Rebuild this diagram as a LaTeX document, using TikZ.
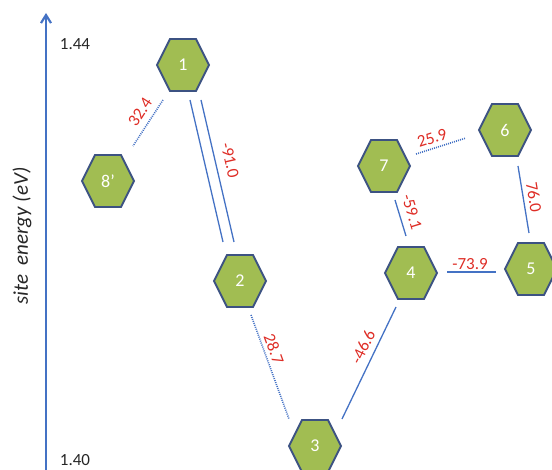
\documentclass[tikz,border=0pt]{standalone}
\usepackage{fontspec}
\setmainfont{Carlito}
\usetikzlibrary{arrows.meta}
\definecolor{axisblue}{RGB}{68,114,196}
\definecolor{hexfill}{RGB}{161,189,82}
\definecolor{hexedge}{RGB}{60,82,130}
\definecolor{lblred}{RGB}{222,45,38}
\tikzset{
  hexshape/.style={fill=hexfill, draw=hexedge, line width=1.8pt, line join=miter},
  hexlabel/.style={text=white, font=\fontsize{18}{20}\selectfont, inner sep=0pt},
  solidlink/.style={draw=axisblue, line width=1.3pt},
  dotlink/.style={draw=axisblue, line width=1.6pt, dash pattern=on 1pt off 1.1pt},
  lbl/.style={text=lblred, font=\fontsize{17}{19}\selectfont, inner sep=0pt},
  ticklbl/.style={text=black!85, font=\fontsize{17}{19}\selectfont, inner sep=0pt}
}
\newcommand{\hexnode}[4]{%
  \draw[hexshape] (#2,#3) ++(-26,0) -- ++(13,-26) -- ++(26,0) -- ++(13,26) -- ++(-13,26) -- ++(-26,0) -- cycle;
  \node[hexlabel] (#1) at (#2,#3) {#4};
}
\begin{document}
\begin{tikzpicture}[x=1pt,y=-1pt]
\useasboundingbox (0,0) rectangle (552,470);
% axis
\coordinate (axbot) at (46,475);
\coordinate (axtop) at (46,13);
\draw[axisblue, line width=2.4pt, -{Straight Barb[length=8pt,width=10pt,line width=2.2pt]}] (axbot) -- (axtop);
\node[ticklbl] (t144) at (75,44) {1.44};
\node[ticklbl] (t140) at (75,460.5) {1.40};
\node[font=\fontsize{21}{24}\selectfont\itshape, text=black!85, rotate=90, inner sep=0pt] (ylab) at (22,236) {site~~energy (eV)};
% hexagons
\hexnode{n1}{183}{65}{1}
\hexnode{n8}{108}{181}{8’}
\hexnode{n2}{240}{281}{2}
\hexnode{n3}{315}{446}{3}
\hexnode{n4}{411}{273}{4}
\hexnode{n5}{531}{269}{5}
\hexnode{n6}{505}{130}{6}
\hexnode{n7}{384}{166}{7}
% connector end points
\coordinate (e18a) at ([shift={(-20,35)}]n1.center);
\coordinate (e18b) at ([shift={(25,-35)}]n8.center);
\coordinate (e12a) at ([shift={(7,35)}]n1.center);
\coordinate (e12b) at ([shift={(-17,-39)}]n2.center);
\coordinate (e12c) at ([shift={(18,35)}]n1.center);
\coordinate (e12d) at ([shift={(-6,-39)}]n2.center);
\coordinate (e23a) at ([shift={(11,34)}]n2.center);
\coordinate (e23b) at ([shift={(-26,-27)}]n3.center);
\coordinate (e34a) at ([shift={(27,-27)}]n3.center);
\coordinate (e34b) at ([shift={(-15,34)}]n4.center);
\coordinate (e47a) at ([shift={(-5,-37)}]n4.center);
\coordinate (e47b) at ([shift={(11,34)}]n7.center);
\coordinate (e76a) at ([shift={(32,-12)}]n7.center);
\coordinate (e76b) at ([shift={(-39,8)}]n6.center);
\coordinate (e65a) at ([shift={(13,36)}]n6.center);
\coordinate (e65b) at ([shift={(-2,-36)}]n5.center);
\coordinate (e45a) at ([shift={(36,-1)}]n4.center);
\coordinate (e45b) at ([shift={(-35,3)}]n5.center);
% connectors
\draw[dotlink] (e18a) -- (e18b);
\draw[solidlink] (e12a) -- (e12b);
\draw[solidlink] (e12c) -- (e12d);
\draw[dotlink] (e23a) -- (e23b);
\draw[solidlink] (e34a) -- (e34b);
\draw[solidlink] (e47a) -- (e47b);
\draw[dotlink] (e76a) -- (e76b);
\draw[solidlink] (e65a) -- (e65b);
\draw[solidlink] (e45a) -- (e45b);
% labels
\node[lbl, rotate=57] (l18) at (140,112) {32.4};
\node[lbl, rotate=-77] (l12) at (230,160) {-91.0};
\node[lbl, rotate=-70] (l23) at (274,349) {28.7};
\node[lbl, rotate=64] (l34) at (363,347) {-46.6};
\node[lbl, rotate=-73] (l47) at (412,212) {-59.1};
\node[lbl, rotate=17.7] (l76) at (432,138) {25.9};
\node[lbl, rotate=-80.6] (l65) at (534,197) {76.0};
\node[lbl] (l45) at (470,264) {-73.9};
\end{tikzpicture}
\end{document}
